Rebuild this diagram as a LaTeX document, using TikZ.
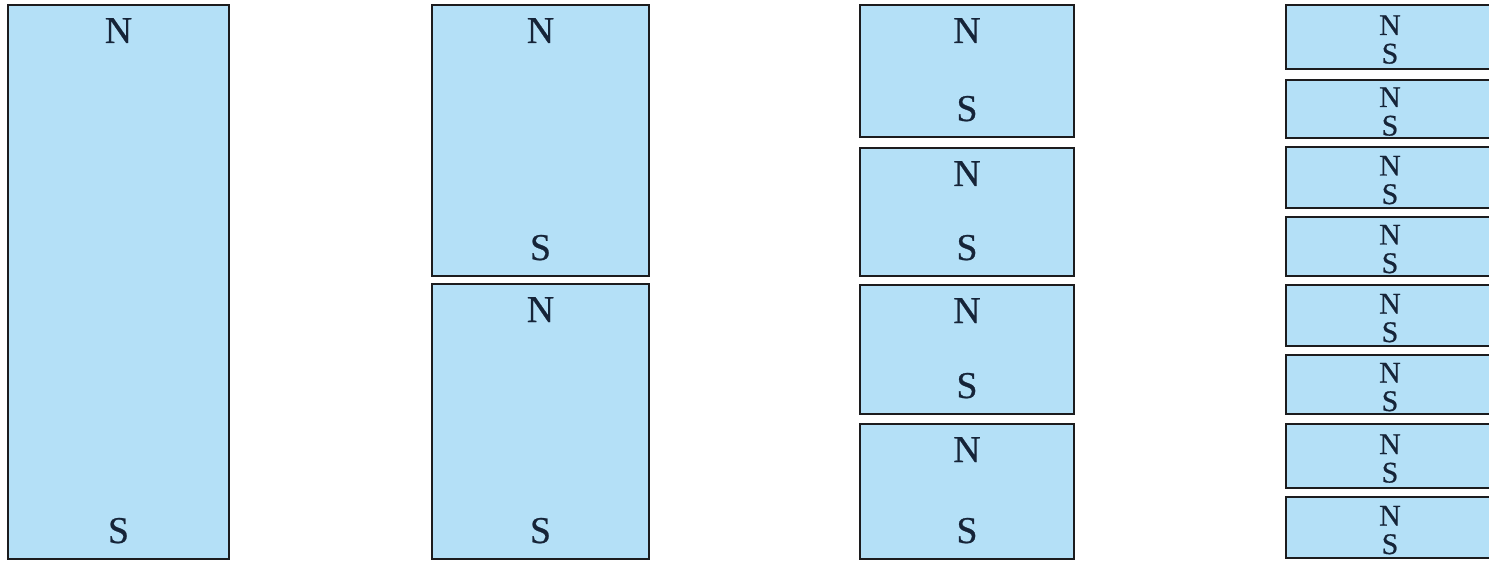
\documentclass[tikz,border=0pt]{standalone}
\usepackage{fontspec}
\setmainfont{Liberation Serif}[FakeBold=0.6]
\definecolor{barfill}{RGB}{180,224,247}
\definecolor{barline}{RGB}{28,28,30}
\definecolor{poletext}{RGB}{22,36,56}

% big bar magnet: name, left, top, right, bottom (N near top, S near bottom)
\newcommand\bigmagnet[5]{%
  \node[bar, minimum width={(#4-#2)*1bp}, minimum height={(#5-#3)*1bp}] (#1) at (#2,#3) {};
  \path (#1.north) ++(0,38) node[bigpole] (#1n) {N};
  \path (#1.south) ++(0,-16) node[bigpole] (#1s) {S};
}
% thin magnet running past the right edge: name, top, bottom
\newcommand\thinmagnet[3]{%
  \node[bar, minimum width=224bp, minimum height={(#3-#2)*1bp}] (#1) at (1286,#2) {};
  \path (#1.west) ++(104,-2) node[smallpole] (#1n) {N};
  \path (#1.west) ++(104,26.5) node[smallpole] (#1s) {S};
}

\begin{document}
\begin{tikzpicture}[x=1bp,y=-1bp,
  bar/.style={draw=barline, fill=barfill, line width=2.8bp, inner sep=0pt,
              outer sep=0pt, rectangle, anchor=north west},
  bigpole/.style={text=poletext, font=\fontsize{38}{38}\selectfont,
                  anchor=base, inner sep=0pt},
  smallpole/.style={text=poletext, font=\fontsize{30}{30}\selectfont,
                    anchor=base, inner sep=0pt}]
\useasboundingbox (0,0) rectangle (1489,562);
\clip (0,0) rectangle (1489,562);

% one whole magnet
\bigmagnet{a}{8}{5}{229}{559}

% cut in two
\bigmagnet{b1}{432}{5}{649}{276}
\bigmagnet{b2}{432}{284}{649}{559}

% cut in four
\bigmagnet{c1}{860}{5}{1074}{137}
\bigmagnet{c2}{860}{148}{1074}{276}
\bigmagnet{c3}{860}{285}{1074}{414}
\bigmagnet{c4}{860}{424}{1074}{559}

% cut in eight
\thinmagnet{d1}{5}{69}
\thinmagnet{d2}{80}{138}
\thinmagnet{d3}{147}{208}
\thinmagnet{d4}{217}{276}
\thinmagnet{d5}{285}{346}
\thinmagnet{d6}{355}{414}
\thinmagnet{d7}{424}{488}
\thinmagnet{d8}{497}{558}
\end{tikzpicture}
\end{document}
